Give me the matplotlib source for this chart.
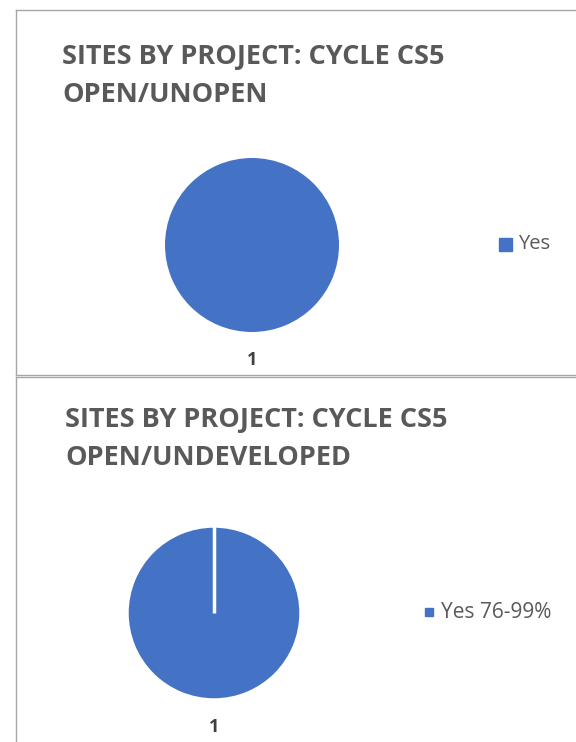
import matplotlib
matplotlib.use('Agg')
import matplotlib.pyplot as plt
from matplotlib.lines import Line2D
from matplotlib.patches import Rectangle
import numpy as np

W, H = 576, 742

titles = ['SITES BY PROJECT: CYCLE CS5\nOPEN/UNOPEN',
          'SITES BY PROJECT: CYCLE CS5\nOPEN/UNDEVELOPED']
labels = [['Yes'], ['Yes 76-99%']]
values = [[1], [1]]
cat_names = ['1', '1']

blue = '#4472C4'
grey = '#595959'

plt.rcParams['font.family'] = ['Open Sans', 'DejaVu Sans']

fig = plt.figure(figsize=(W / 100, H / 100), dpi=100)


def px(x, y):
    # pixel coords (top-left origin) -> figure fraction
    return x / W, 1 - y / H


def box(x, y, w, h):
    return [x / W, 1 - (y + h) / H, w / W, h / H]


# panel borders
for (x0, y0, x1, y1) in [(16, 10, 576, 10), (16, 10, 16, 375), (16, 375, 576, 375),
                         (16, 377, 576, 377), (16, 377, 16, 742)]:
    fig.add_artist(Line2D([x0 / W, x1 / W], [1 - y0 / H, 1 - y1 / H],
                          color='#a6a6a6', lw=1.0))

panels = [
    dict(tx=62, ty=76, cx=252, cy=245, r=87, lx=252, ly=360,
         sq=(499, 238, 13, 13), legx=518, legy=244, legfs=14.5, edge=0),
    dict(tx=65, ty=439, cx=214, cy=613, r=87, lx=214, ly=727,
         sq=(425, 608, 8, 8), legx=441, legy=612, legfs=15, edge=2.5),
]

for i, p in enumerate(panels):
    fig.text(*px(p['tx'], p['ty']), titles[i], fontsize=19.5, fontweight='bold',
             color=grey, ha='left', va='center', linespacing=1.62)
    ax = fig.add_axes(box(p['cx'] - p['r'], p['cy'] - p['r'], 2 * p['r'], 2 * p['r']))
    wedges, _ = ax.pie(values[i], colors=[blue], startangle=90, counterclock=False,
                       wedgeprops=dict(edgecolor='white', linewidth=p['edge']))
    if p['edge'] > 0:
        # slice boundary: matplotlib drops the radial edge for a full-circle wedge
        for w in wedges:
            a = np.deg2rad(w.theta1)
            ax.plot([w.center[0], w.center[0] + w.r * np.cos(a)],
                    [w.center[1], w.center[1] + w.r * np.sin(a)],
                    color='white', lw=p['edge'], solid_capstyle='butt')
    ax.set_xlim(-1, 1)
    ax.set_ylim(-1, 1)
    ax.set_aspect('equal')
    ax.axis('off')
    fig.text(*px(p['lx'], p['ly']), cat_names[i], fontsize=13, fontweight='bold',
             color='#404040', ha='center', va='center')
    sx, sy, sw, sh = p['sq']
    fig.add_artist(Rectangle(px(sx, sy + sh), sw / W, sh / H,
                             transform=fig.transFigure, color=blue))
    fig.text(*px(p['legx'], p['legy']), labels[i][0], fontsize=p['legfs'],
             color=grey, ha='left', va='center')

fig.savefig('out.png', dpi=100)
